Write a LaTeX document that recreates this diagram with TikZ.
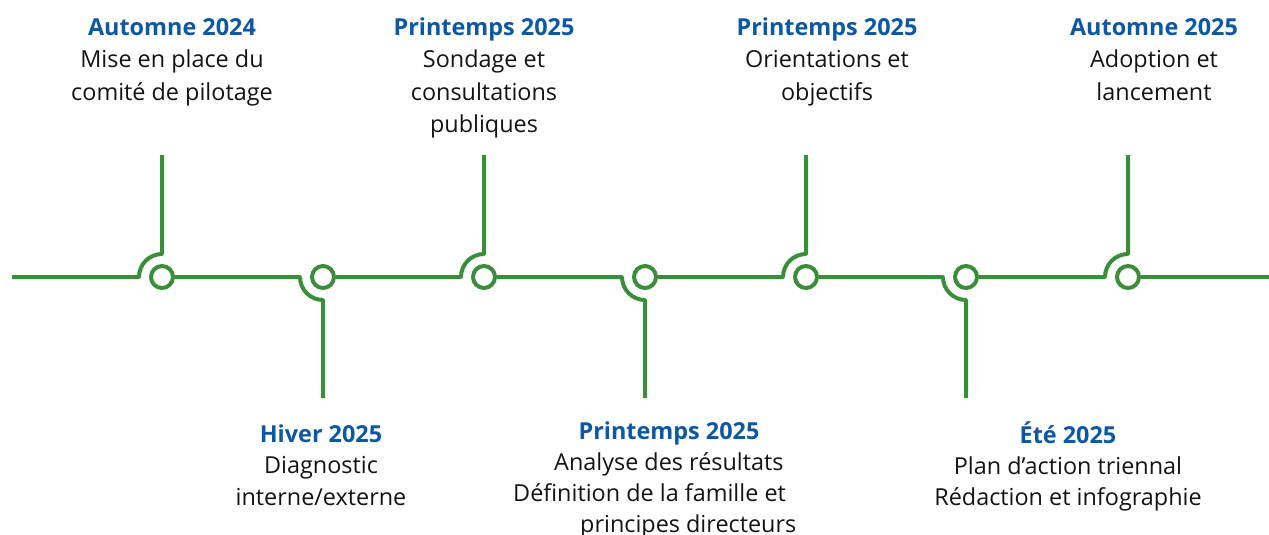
\documentclass[tikz,border=0pt]{standalone}
\usepackage{fontspec}
\setmainfont{Open Sans}
\definecolor{tlgreen}{RGB}{58,142,58}
\definecolor{tlblue}{RGB}{12,88,164}
\begin{document}
\begin{tikzpicture}[x=1pt,y=-1pt,
  tline/.style={draw=tlgreen,line width=4pt,line join=round},
  dot/.style={circle,draw=tlgreen,line width=4pt,fill=white,minimum size=22pt,inner sep=0pt},
  ttl/.style={anchor=base,font=\fontsize{23.4}{30}\selectfont\bfseries,text=tlblue,inner sep=0pt},
  txt/.style={anchor=base,font=\fontsize{23.4}{30}\selectfont,text=black!92,inner sep=0pt}]
\useasboundingbox (0,0) rectangle (1269,535);
% coordinates
\coordinate (s) at (12,277);
\coordinate (f) at (1269,277);
\foreach \i/\x in {1/162,2/323,3/484,4/645,5/806,6/966,7/1128}{
  \coordinate (a\i) at (\x-23,277);
}
\coordinate (t1) at (162,155);
\coordinate (b2) at (323,398);
\coordinate (t3) at (484,155);
\coordinate (b4) at (645,398);
\coordinate (t5) at (806,155);
\coordinate (b6) at (966,398);
\coordinate (t7) at (1128,155);
% circles
\node[dot] (c1) at (162,277) {};
\node[dot] (c2) at (323,277) {};
\node[dot] (c3) at (484,277) {};
\node[dot] (c4) at (645,277) {};
\node[dot] (c5) at (806,277) {};
\node[dot] (c6) at (966,277) {};
\node[dot] (c7) at (1128,277) {};
% line segments
\draw[tline] (s) -- (a1) arc[start angle=180,end angle=270,radius=23] -- (t1);
\draw[tline] (c1.east) -- (a2) arc[start angle=180,end angle=90,radius=23] -- (b2);
\draw[tline] (c2.east) -- (a3) arc[start angle=180,end angle=270,radius=23] -- (t3);
\draw[tline] (c3.east) -- (a4) arc[start angle=180,end angle=90,radius=23] -- (b4);
\draw[tline] (c4.east) -- (a5) arc[start angle=180,end angle=270,radius=23] -- (t5);
\draw[tline] (c5.east) -- (a6) arc[start angle=180,end angle=90,radius=23] -- (b6);
\draw[tline] (c6.east) -- (a7) arc[start angle=180,end angle=270,radius=23] -- (t7);
\draw[tline] (c7.east) -- (f);
% top labels
\node[ttl] (l1t) at (172,36) {Automne 2024};
\node[txt] (l1a) at (172,68) {Mise en place du};
\node[txt] (l1b) at (172,100) {comité de pilotage};
\node[ttl] (l3t) at (484,36) {Printemps 2025};
\node[txt] (l3a) at (484,68) {Sondage et};
\node[txt] (l3b) at (484,100) {consultations};
\node[txt] (l3c) at (484,132) {publiques};
\node[ttl] (l5t) at (827,36) {Printemps 2025};
\node[txt] (l5a) at (827,68) {Orientations et};
\node[txt] (l5b) at (827,100) {objectifs};
\node[ttl] (l7t) at (1154,36) {Automne 2025};
\node[txt] (l7a) at (1154,68) {Adoption et};
\node[txt] (l7b) at (1154,100) {lancement};
% bottom labels
\node[ttl] (l2t) at (321,442) {Hiver 2025};
\node[txt] (l2a) at (321,473) {Diagnostic};
\node[txt] (l2b) at (321,505) {interne/externe};
\node[ttl] (l4t) at (669,439) {Printemps 2025};
\node[txt,anchor=base west] (l4a) at (554,470) {Analyse des résultats};
\node[txt,anchor=base west] (l4b) at (513,501) {Définition de la famille et};
\node[txt,anchor=base west] (l4c) at (580,532) {principes directeurs};
\node[ttl] (l6t) at (1068,443) {Été 2025};
\node[txt] (l6a) at (1068,474) {Plan d’action triennal};
\node[txt] (l6b) at (1068,505) {Rédaction et infographie};
\end{tikzpicture}
\end{document}
